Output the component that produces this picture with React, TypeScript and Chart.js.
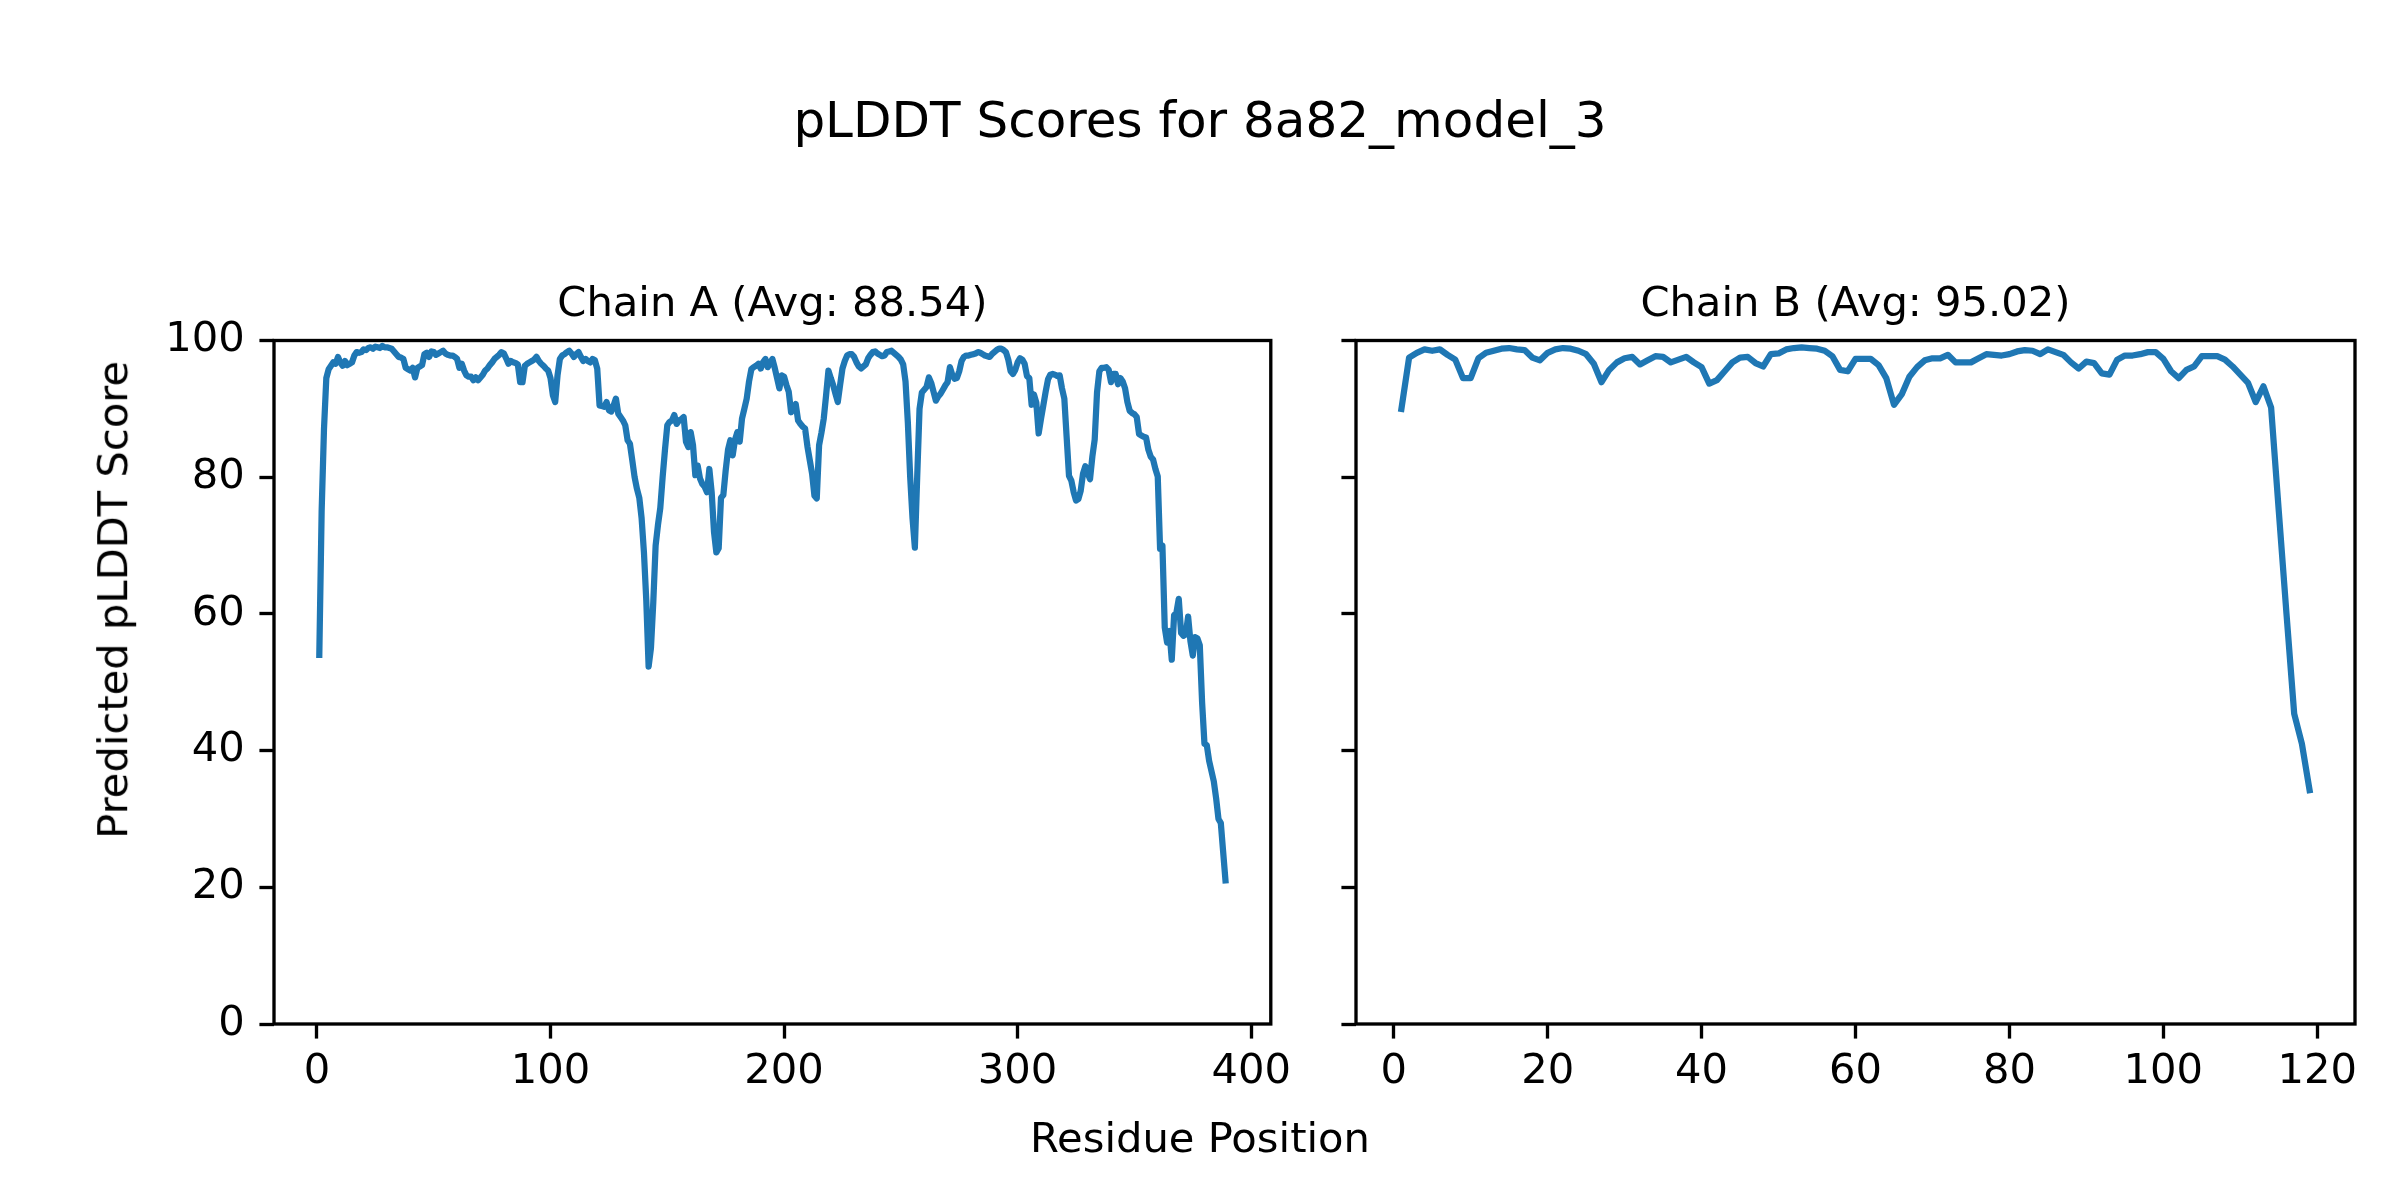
import React, { useEffect, useRef } from "react";
import { Chart, registerables } from "chart.js";

Chart.register(...registerables);

const figureTitle = "pLDDT Scores for 8a82_model_3";
const xAxisLabel = "Residue Position";
const yAxisLabel = "Predicted pLDDT Score";
const chainATitle = "Chain A (Avg: 88.54)";
const chainBTitle = "Chain B (Avg: 95.02)";

const chainAScores = [
  54, 75, 87, 94.5, 95.8, 96.3, 96.8, 96.6, 97.6, 96.8,
  96.3, 97.0, 96.4, 96.6, 96.8, 97.8, 98.3, 98.2, 98.3, 98.7,
  98.6, 98.9, 99.0, 98.8, 99.1, 99.0, 98.9, 99.2, 99.0, 99.0,
  98.9, 98.8, 98.4, 98.0, 97.6, 97.5, 97.3, 96.0, 95.8, 95.6,
  96.0, 94.6, 96.0, 96.2, 96.4, 98.0, 98.2, 97.6, 98.4, 98.3,
  97.9, 98.1, 98.3, 98.5, 98.1, 97.9, 97.8, 97.8, 97.6, 97.3,
  96.0, 96.6, 95.6, 94.9, 94.7, 94.7, 94.2, 94.6, 94.2, 94.6,
  95.0, 95.6, 95.9, 96.4, 96.8, 97.3, 97.6, 97.9, 98.3, 98.1,
  97.4, 96.6, 97.0, 96.8, 96.7, 96.5, 93.9, 93.9, 96.3, 96.6,
  96.8, 97.0, 97.2, 97.6, 97.0, 96.6, 96.3, 95.9, 95.6, 94.5,
  92.0, 91.0, 94.9, 97.3, 97.8, 98.0, 98.3, 98.5, 98.1, 97.6,
  98.0, 98.3, 97.6, 97.0, 97.3, 97.0, 96.8, 97.3, 97.1, 95.9,
  90.5, 90.4, 90.3, 91.0, 89.8, 89.6, 90.5, 91.5, 89.3, 88.8,
  88.3, 87.6, 85.4, 84.9, 82.5, 80.0, 78.3, 77.0, 74.0, 69.0,
  62.0, 52.3, 55.0, 61.7, 70.0, 73.0, 75.5, 80.0, 84.0, 87.6,
  88.1, 88.3, 89.1, 87.8, 88.3, 88.5, 88.8, 85.2, 84.4, 86.6,
  84.7, 80.3, 81.7, 79.8, 79.0, 78.6, 77.8, 81.2, 77.8, 72.0,
  69.0, 69.6, 77.0, 77.4, 81.0, 84.0, 85.4, 83.2, 85.5, 86.6,
  85.2, 88.6, 90.0, 91.5, 94.0, 95.8, 96.1, 96.3, 96.6, 95.9,
  96.8, 97.3, 96.1, 96.7, 97.3, 96.0, 94.5, 93.0, 94.9, 94.7,
  93.5, 92.5, 89.5, 90.0, 90.7, 88.3, 87.8, 87.4, 87.1, 84.5,
  82.5, 80.5, 77.3, 76.9, 84.7, 86.5, 88.6, 92.0, 95.6, 94.5,
  93.5, 92.2, 91.0, 93.5, 95.9, 97.0, 97.8, 98.0, 98.0, 97.6,
  96.8, 96.2, 95.9, 96.2, 96.5, 97.4, 97.9, 98.3, 98.4, 98.1,
  97.9, 97.7, 97.8, 98.3, 98.4, 98.5, 98.2, 97.9, 97.6, 97.2,
  96.5, 94.0, 88.0, 80.0, 74.0, 69.7, 80.0, 90.0, 92.4, 92.8,
  93.2, 94.6, 93.8, 92.5, 91.2, 91.8, 92.2, 92.8, 93.4, 93.9,
  96.1, 95.0, 94.4, 94.5, 95.5, 97.0, 97.6, 97.8, 97.8, 97.9,
  98.0, 98.1, 98.3, 98.2, 98.0, 97.8, 97.7, 97.6, 98.0, 98.3,
  98.6, 98.8, 98.8, 98.6, 98.3, 97.2, 95.5, 95.1, 95.7, 96.8,
  97.4, 97.2, 96.6, 94.8, 94.5, 90.6, 92.1, 90.9, 86.4, 88.5,
  90.5, 92.5, 94.3, 95.0, 95.1, 95.0, 94.8, 94.9, 93.0, 91.5,
  85.8, 80.2, 79.5, 77.8, 76.6, 76.8, 78.0, 80.5, 81.6, 80.6,
  79.7, 83.0, 85.5, 92.4, 95.5, 96.0, 96.0, 96.1, 95.7, 93.9,
  95.1, 95.1, 93.6, 94.5, 94.0, 93.0, 91.0, 89.7, 89.4, 89.2,
  88.8, 86.3, 86.1, 85.9, 85.8, 84.0, 83.0, 82.6, 81.2, 80.1,
  69.5, 70.0, 58.0, 55.8, 57.5, 53.3, 59.8, 60.2, 62.2, 57.2,
  56.8, 57.0, 59.6, 56.0, 53.9, 56.6, 56.4, 55.4, 47.0, 41.0,
  40.8, 38.5, 37.0, 35.5, 33.0, 30.0, 29.4, 25.2, 21.0,
];

const chainBScores = [
  90.0, 97.5, 98.2, 98.7, 98.5, 98.7, 97.9, 97.2, 94.5, 94.5,
  97.4, 98.2, 98.5, 98.8, 98.9, 98.7, 98.6, 97.5, 97.1, 98.2,
  98.7, 98.9, 98.8, 98.5, 98.0, 96.6, 93.9, 95.7, 96.8, 97.4,
  97.6, 96.5, 97.1, 97.7, 97.6, 96.8, 97.2, 97.6, 96.8, 96.1,
  93.7, 94.2, 95.5, 96.8, 97.5, 97.6, 96.7, 96.2, 98.0, 98.1,
  98.7, 98.9, 99.0, 98.9, 98.8, 98.5, 97.7, 95.7, 95.5, 97.3,
  97.3, 97.3, 96.4, 94.5, 90.6, 92.1, 94.7, 96.1, 97.1, 97.4,
  97.4, 97.9, 96.8, 96.8, 96.8, 97.4, 98.0, 97.9, 97.8, 98.0,
  98.4, 98.6, 98.5, 98.0, 98.7, 98.3, 97.9, 96.8, 95.9, 96.9,
  96.7, 95.2, 95.0, 97.2, 97.8, 97.8, 98.0, 98.3, 98.3, 97.3,
  95.5, 94.5, 95.7, 96.2, 97.7, 97.7, 97.7, 97.2, 96.2, 95.0,
  93.8, 91.0, 93.3, 90.2, 75.0, 60.0, 45.4, 41.0, 34.2,
];

const chainATicks = [0, 100, 200, 300, 400];
const chainBTicks = [0, 20, 40, 60, 80, 100, 120];
const yTicks = [0, 20, 40, 60, 80, 100];

const FONT = '"DejaVu Sans", "Liberation Sans", sans-serif';
const PT = 300 / 72; // px per point at 300 dpi
const LINE_COLOR = "#1f77b4";

const spinePlugin = {
  id: "spines",
  afterDatasetsDraw(chart: any) {
    const { ctx, chartArea: a } = chart;
    ctx.save();
    ctx.strokeStyle = "#000";
    ctx.lineWidth = 0.8 * PT;
    ctx.strokeRect(a.left, a.top, a.right - a.left, a.bottom - a.top);
    ctx.restore();
  },
};

type PanelProps = {
  scores: number[];
  title: string;
  xTicks: number[];
  left: number;
  width: number;
  yAxisWidth: number;
  padRight: number;
  showYLabels: boolean;
};

function Panel({ scores, title, xTicks, left, width, yAxisWidth, padRight, showYLabels }: PanelProps) {
  const ref = useRef<HTMLCanvasElement | null>(null);
  useEffect(() => {
    if (!ref.current) return;
    const n = scores.length;
    const margin = 0.05 * (n - 1);
    const tickFont = { family: FONT, size: 10 * PT, weight: "normal" as const, lineHeight: 1.2 };
    const gridOpts = {
      display: true,
      drawOnChartArea: false,
      drawTicks: true,
      tickLength: 3.5 * PT,
      tickWidth: 0.8 * PT,
      tickColor: "#000",
    };
    const chart = new Chart(ref.current, {
      type: "line",
      data: {
        datasets: [
          {
            data: scores.map((y, i) => ({ x: i + 1, y })),
            borderColor: LINE_COLOR,
            backgroundColor: LINE_COLOR,
            borderWidth: 1.5 * PT,
            pointRadius: 0,
            tension: 0,
            fill: false,
            borderJoinStyle: "round",
            borderCapStyle: "square",
          },
        ],
      },
      options: {
        animation: false,
        responsive: false,
        devicePixelRatio: 1,
        events: [],
        layout: { padding: { top: 280.6, left: 0, right: padRight, bottom: 0 } },
        plugins: {
          legend: { display: false },
          tooltip: { enabled: false },
          title: {
            display: true,
            text: title,
            fullSize: false,
            color: "#000",
            font: { family: FONT, size: 10 * PT, weight: "normal", lineHeight: 1.2 },
            padding: { top: 0, bottom: 9.9 },
          },
        },
        scales: {
          x: {
            type: "linear",
            min: 1 - margin,
            max: n + margin,
            afterBuildTicks: (s: any) => {
              s.ticks = xTicks.map((value) => ({ value }));
            },
            afterFit: (s: any) => {
              s.height = 176;
            },
            grid: gridOpts,
            border: { display: false },
            ticks: { color: "#000", font: tickFont, padding: 8.5, maxRotation: 0, autoSkip: false },
          },
          y: {
            type: "linear",
            min: 0,
            max: 100,
            afterBuildTicks: (s: any) => {
              s.ticks = yTicks.map((value) => ({ value }));
            },
            afterFit: (s: any) => {
              s.width = yAxisWidth;
            },
            grid: gridOpts,
            border: { display: false },
            ticks: { display: showYLabels, color: "#000", font: tickFont, padding: 3.5 * PT, autoSkip: false },
          },
        },
      },
      plugins: [spinePlugin],
    } as any);
    return () => chart.destroy();
  }, []);
  return (
    <canvas
      ref={ref}
      width={width}
      height={1200}
      style={{ position: "absolute", left, top: 0, width, height: 1200 }}
    />
  );
}

export default function App() {
  return (
    <div
      style={{
        position: "absolute",
        left: 0,
        top: 0,
        width: 2400,
        height: 1200,
        background: "#fff",
        overflow: "hidden",
      }}
    >
      <Panel
        scores={chainAScores}
        title={chainATitle}
        xTicks={chainATicks}
        left={0}
        width={1300}
        yAxisWidth={274}
        padRight={27}
        showYLabels={true}
      />
      <Panel
        scores={chainBScores}
        title={chainBTitle}
        xTicks={chainBTicks}
        left={1300}
        width={1100}
        yAxisWidth={56}
        padRight={45}
        showYLabels={false}
      />
      <div
        style={{
          position: "absolute",
          left: 0,
          top: 95.2,
          width: 2400,
          textAlign: "center",
          fontFamily: FONT,
          fontSize: 12 * PT,
          lineHeight: `${12 * PT}px`,
          color: "#000",
          whiteSpace: "nowrap",
        }}
      >
        {figureTitle}
      </div>
      <div
        style={{
          position: "absolute",
          left: 0,
          top: 1116.8,
          width: 2400,
          textAlign: "center",
          fontFamily: FONT,
          fontSize: 10 * PT,
          lineHeight: `${10 * PT}px`,
          color: "#000",
          whiteSpace: "nowrap",
        }}
      >
        {xAxisLabel}
      </div>
      <div
        style={{
          position: "absolute",
          left: 112.6 - 300,
          top: 600 - (10 * PT) / 2,
          width: 600,
          height: 10 * PT,
          textAlign: "center",
          fontFamily: FONT,
          fontSize: 10 * PT,
          lineHeight: `${10 * PT}px`,
          color: "#000",
          whiteSpace: "nowrap",
          transform: "rotate(-90deg)",
        }}
      >
        {yAxisLabel}
      </div>
    </div>
  );
}
